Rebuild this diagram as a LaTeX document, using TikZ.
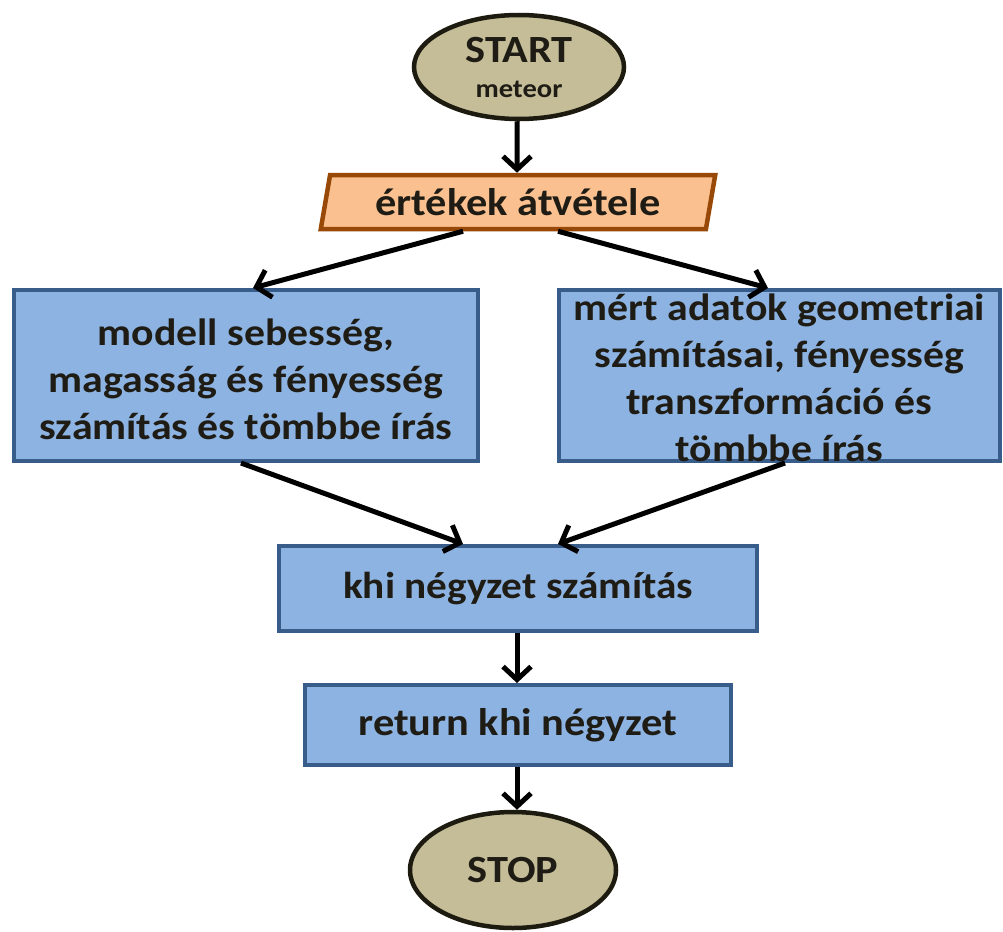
\documentclass[tikz,border=0pt]{standalone}
\usepackage{fontspec}
\setmainfont{Carlito}[FakeStretch=1.1]
\usetikzlibrary{shapes.geometric,arrows.meta}
\definecolor{tanfill}{HTML}{C4BD97}
\definecolor{tanline}{HTML}{1D1B10}
\definecolor{orfill}{HTML}{FAC090}
\definecolor{orline}{HTML}{984807}
\definecolor{blfill}{HTML}{8DB3E2}
\definecolor{blline}{HTML}{385D8A}
\definecolor{txt}{HTML}{1E1C14}
\tikzset{
  term/.style={ellipse, draw=tanline, fill=tanfill, line width=4.5pt, inner sep=0pt, text=txt, font=\bfseries, align=center},
  iobox/.style={trapezium, trapezium left angle=75.5, trapezium right angle=104.5, trapezium stretches=true, draw=orline, fill=orfill, line width=4.5pt, inner sep=0pt, text=txt, font=\fontsize{38.5}{46}\selectfont\bfseries},
  procbox/.style={rectangle, draw=blline, fill=blfill, line width=4pt, inner sep=0pt, text=txt, align=center},
  boxtext/.style={text=txt, font=\fontsize{38}{47}\selectfont\bfseries, align=center, inner sep=0pt},
  conn/.style={line width=5pt, draw=black, -{Straight Barb[length=13pt,width=28pt]}},
}
\begin{document}
\begin{tikzpicture}[x=1pt,y=-1pt]
\useasboundingbox (0,0) rectangle (1003,931);
\node[term, minimum width=210, minimum height=104, font=\fontsize{38.5}{35}\selectfont\bfseries] (start) at (519,67) {{START}\\{\fontsize{26}{26}\selectfont meteor}};
\node[iobox, minimum width=396, minimum height=54] (par) at (518,202) {értékek átvétele};
\node[procbox, minimum width=464, minimum height=171] (left) at (246,375.5) {};
\node[procbox, minimum width=441, minimum height=171] (right) at (779.5,375.5) {};
\node[boxtext] (lefttext) at (246,379) {modell sebesség,\\magasság és fényesség\\számítás és tömbbe írás};
\node[boxtext] (righttext) at (779.5,378) {mért adatok geometriai\\számításai, fényesség\\transzformáció és\\tömbbe írás};
\node[procbox, minimum width=478, minimum height=85, font=\fontsize{37.5}{45}\selectfont\bfseries] (khi) at (518,588.5) {khi négyzet számítás};
\node[procbox, minimum width=426, minimum height=80, font=\fontsize{38.5}{46}\selectfont\bfseries] (ret) at (518,725) {return khi négyzet};
\node[term, minimum width=206, minimum height=116, font=\fontsize{38.5}{40}\selectfont\bfseries] (stop) at (513,870) {STOP};
\draw[conn] ([xshift=-2pt]start.south) -- ([xshift=-1pt]par.north);
\draw[conn] ([xshift=-55pt]par.south) -- ([xshift=7pt]left.north);
\draw[conn] ([xshift=40pt]par.south) -- ([xshift=-11.5pt]right.north);
\draw[conn] ([xshift=-5pt]left.south) -- ([xshift=-55pt]khi.north);
\draw[conn] ([xshift=5.5pt]right.south) -- ([xshift=40pt]khi.north);
\draw[conn] ([xshift=-1pt]khi.south) -- ([xshift=-1pt]ret.north);
\draw[conn] ([xshift=-1pt]ret.south) -- ([xshift=4pt]stop.north);
\end{tikzpicture}
\end{document}
